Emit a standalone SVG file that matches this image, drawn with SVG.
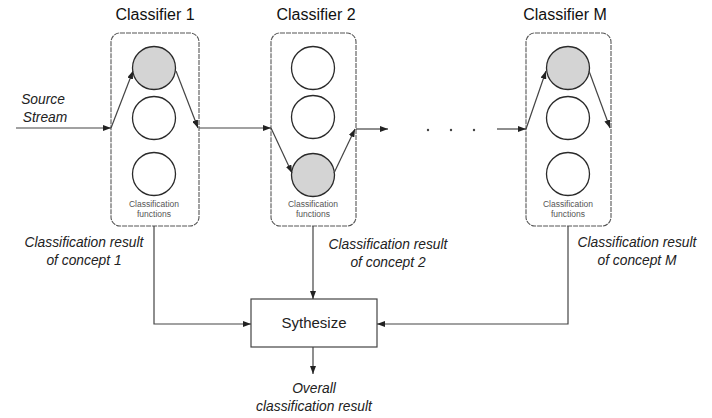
<svg xmlns="http://www.w3.org/2000/svg" width="712" height="418" viewBox="0 0 712 418">
  <defs>
    <marker id="arrow" viewBox="0 0 8 6" refX="8" refY="3" markerWidth="8" markerHeight="6" markerUnits="userSpaceOnUse" orient="auto">
      <path d="M0,0 L8,3 L0,6 Z" fill="#222"/>
    </marker>
  </defs>
  <style>
    .frame { fill: #fff; stroke: #555; stroke-width: 1.1; stroke-dasharray: 5 1; }
    .fn { fill: #fff; stroke: #2a2a2a; stroke-width: 1.3; }
    .fn.active { fill: #d4d4d4; }
    .title { font-family: "Liberation Sans", Arial, sans-serif; font-size: 16px; fill: #111; text-anchor: middle; }
    .small { font-family: "Liberation Sans", Arial, sans-serif; font-size: 8.5px; fill: #555; text-anchor: middle; }
    .label { font-family: "Liberation Sans", Arial, sans-serif; font-size: 13.8px; font-style: italic; fill: #222; text-anchor: middle; }
    .box { fill: #fff; stroke: #444; stroke-width: 1.2; }
    .boxtext { font-family: "Liberation Sans", Arial, sans-serif; font-size: 15px; fill: #222; text-anchor: middle; }
    .link { fill: none; stroke: #444; stroke-width: 1.2; }
    .dot { fill: #444; }
  </style>
  <rect width="712" height="418" fill="#fff"/>

  <!-- Classifier 1 -->
  <g id="classifier-1">
    <text class="title" x="155" y="20">Classifier 1</text>
    <rect class="frame" x="111" y="33" width="88" height="193" rx="9"/>
    <circle class="fn active" cx="154" cy="68" r="21.5"/>
    <circle class="fn" cx="154" cy="118" r="21.5"/>
    <circle class="fn" cx="154" cy="174" r="21.5"/>
    <text class="small" x="154" y="207">Classification</text>
    <text class="small" x="154" y="217">functions</text>
  </g>

  <!-- Classifier 2 -->
  <g id="classifier-2">
    <text class="title" x="316" y="20">Classifier 2</text>
    <rect class="frame" x="271" y="33" width="85" height="193" rx="9"/>
    <circle class="fn" cx="313" cy="68" r="21.5"/>
    <circle class="fn" cx="313" cy="117" r="21.5"/>
    <circle class="fn active" cx="313" cy="175" r="21.5"/>
    <text class="small" x="313" y="207">Classification</text>
    <text class="small" x="313" y="217">functions</text>
  </g>

  <!-- Classifier M -->
  <g id="classifier-m">
    <text class="title" x="565" y="20">Classifier M</text>
    <rect class="frame" x="526" y="33" width="85" height="193" rx="9"/>
    <circle class="fn active" cx="568" cy="68" r="21.5"/>
    <circle class="fn" cx="568" cy="118" r="21.5"/>
    <circle class="fn" cx="568" cy="174" r="21.5"/>
    <text class="small" x="568" y="207">Classification</text>
    <text class="small" x="568" y="217">functions</text>
  </g>

  <!-- Synthesis step -->
  <g id="synthesize">
    <rect class="box" x="251" y="299" width="126" height="48"/>
    <text class="boxtext" x="314" y="328">Sythesize</text>
  </g>

  <!-- Labels -->
  <g id="labels">
    <text class="label" x="43" y="104">Source</text>
    <text class="label" x="45" y="122">Stream</text>
    <text class="label" x="84" y="247">Classification result</text>
    <text class="label" x="84" y="265">of concept 1</text>
    <text class="label" x="388" y="249">Classification result</text>
    <text class="label" x="388" y="267">of concept 2</text>
    <text class="label" x="637" y="247">Classification result</text>
    <text class="label" x="637" y="265">of concept M</text>
    <text class="label" x="314" y="393">Overall</text>
    <text class="label" x="314" y="411">classification result</text>
  </g>

  <!-- Connectors -->
  <g id="connectors">
    <!-- stream through classifier 1 -->
    <line class="link" x1="16" y1="128" x2="111" y2="128" marker-end="url(#arrow)"/>
    <line class="link" x1="111" y1="128" x2="133" y2="71" marker-end="url(#arrow)"/>
    <line class="link" x1="176" y1="71" x2="198" y2="128" marker-end="url(#arrow)"/>
    <line class="link" x1="199" y1="128" x2="271" y2="128" marker-end="url(#arrow)"/>
    <!-- classifier 2 -->
    <line class="link" x1="271" y1="128" x2="292" y2="173" marker-end="url(#arrow)"/>
    <line class="link" x1="334" y1="173" x2="355" y2="129" marker-end="url(#arrow)"/>
    <line class="link" x1="356" y1="129" x2="388" y2="129" marker-end="url(#arrow)"/>
    <circle class="dot" cx="428" cy="130" r="1.2"/>
    <circle class="dot" cx="451" cy="130" r="1.2"/>
    <circle class="dot" cx="474" cy="130" r="1.2"/>
    <line class="link" x1="497" y1="129" x2="526" y2="129" marker-end="url(#arrow)"/>
    <!-- classifier M -->
    <line class="link" x1="526" y1="129" x2="546" y2="71" marker-end="url(#arrow)"/>
    <line class="link" x1="589" y1="71" x2="610" y2="128" marker-end="url(#arrow)"/>
    <!-- results into synthesis -->
    <polyline class="link" points="154,226 154,324 251,324" marker-end="url(#arrow)"/>
    <line class="link" x1="313" y1="226" x2="313" y2="299" marker-end="url(#arrow)"/>
    <polyline class="link" points="568,226 568,324 377,324" marker-end="url(#arrow)"/>
    <line class="link" x1="313" y1="347" x2="313" y2="374" marker-end="url(#arrow)"/>
  </g>
</svg>
